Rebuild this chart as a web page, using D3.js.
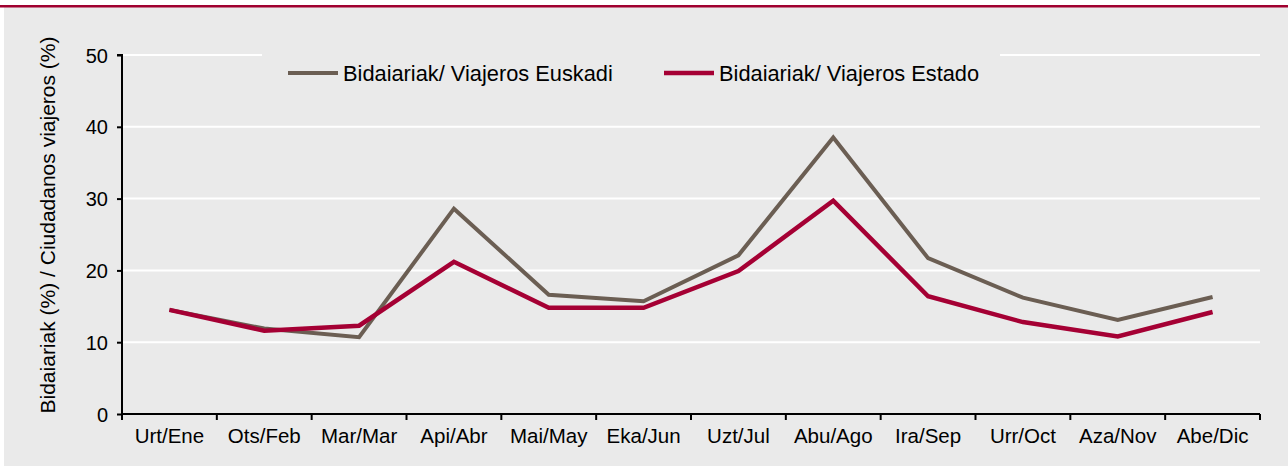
<!DOCTYPE html>
<html><head><meta charset="utf-8">
<script src="https://cdn.jsdelivr.net/npm/d3@7"></script>
<style>body{margin:0;background:#fff}svg{display:block}text{font-family:"Liberation Sans",Arial,sans-serif}</style>
</head><body><svg id="c" width="1288" height="467"></svg>
<script>
const categories = ["Urt/Ene","Ots/Feb","Mar/Mar","Api/Abr","Mai/May","Eka/Jun","Uzt/Jul","Abu/Ago","Ira/Sep","Urr/Oct","Aza/Nov","Abe/Dic"];
const euskadi = [14.5, 11.9, 10.7, 28.6, 16.6, 15.7, 22.1, 38.5, 21.7, 16.2, 13.1, 16.3];
const estado  = [14.5, 11.6, 12.3, 21.2, 14.8, 14.8, 19.9, 29.7, 16.4, 12.8, 10.8, 14.2];
const yTicks = [0,10,20,30,40,50];
const seriesNames = ["Bidaiariak/ Viajeros Euskadi","Bidaiariak/ Viajeros Estado"];
const colors = ["#6b5e53","#a50034"];

const svg = d3.select("#c");
svg.append("rect").attr("x",4).attr("y",7).attr("width",1284).attr("height",459).attr("fill","#eaeaea");
svg.append("rect").attr("x",0).attr("y",5).attr("width",1288).attr("height",2.5).attr("fill","#a0002f");

const L=122,R=1260,T=55,B=414;
const x = d3.scaleBand().domain(categories).range([L,R]);
const y = d3.scaleLinear().domain([0,50]).range([B,T]);

// gridlines
svg.append("g").selectAll("line").data(yTicks.filter(d=>d>0)).join("line")
  .attr("x1",L).attr("x2",R).attr("y1",d=>y(d)).attr("y2",d=>y(d))
  .attr("stroke","#fff").attr("stroke-width",2);

// legend box covering top gridline
svg.append("rect").attr("x",262).attr("y",46).attr("width",738).attr("height",50).attr("fill","#eaeaea");

// axes
const gy = svg.append("g").attr("transform",`translate(${L},0)`)
  .call(d3.axisLeft(y).tickValues(yTicks).tickSize(5).tickPadding(9));
gy.select(".domain").attr("stroke","#000").attr("stroke-width",2).attr("d",`M-5,${T}H0V${B}`);
gy.selectAll(".tick line").attr("stroke","#000").attr("stroke-width",2);
gy.selectAll(".tick text").attr("font-size",20).attr("fill","#000").attr("dy","0.35em");

const gx = svg.append("g").attr("transform",`translate(0,${B})`)
  .call(d3.axisBottom(x).tickSize(0).tickPadding(14));
gx.select(".domain").attr("stroke","#000").attr("stroke-width",2).attr("d",`M${L},0H${R}`);
gx.selectAll(".tick text").attr("font-size",20.5).attr("fill","#000");
svg.append("g").selectAll("line").data(d3.range(categories.length+1)).join("line")
  .attr("x1",i=>L+i*x.step()).attr("x2",i=>L+i*x.step()).attr("y1",B).attr("y2",B+6)
  .attr("stroke","#000").attr("stroke-width",2);

// y title
svg.append("text").attr("transform",`translate(55,${(35+415)/2}) rotate(-90)`)
  .attr("text-anchor","middle").attr("font-size",21).attr("fill","#000")
  .text("Bidaiariak (%) / Ciudadanos viajeros (%)");

// lines
const line = d3.line().x((d,i)=>x(categories[i])+x.bandwidth()/2).y(d=>y(d));
svg.append("path").attr("d",line(euskadi)).attr("fill","none").attr("stroke",colors[0]).attr("stroke-width",4).attr("stroke-linejoin","miter");
svg.append("path").attr("d",line(estado)).attr("fill","none").attr("stroke",colors[1]).attr("stroke-width",4.5).attr("stroke-linejoin","miter");

// legend
const lg = [{x:288},{x:664}];
lg.forEach((p,i)=>{
  svg.append("line").attr("x1",p.x).attr("x2",p.x+50).attr("y1",73).attr("y2",73).attr("stroke",colors[i]).attr("stroke-width",i?4.5:4);
  svg.append("text").attr("x",p.x+55).attr("y",73).attr("dy","0.35em").attr("font-size",21.8).attr("fill","#000").text(seriesNames[i]);
});
</script></body></html>
